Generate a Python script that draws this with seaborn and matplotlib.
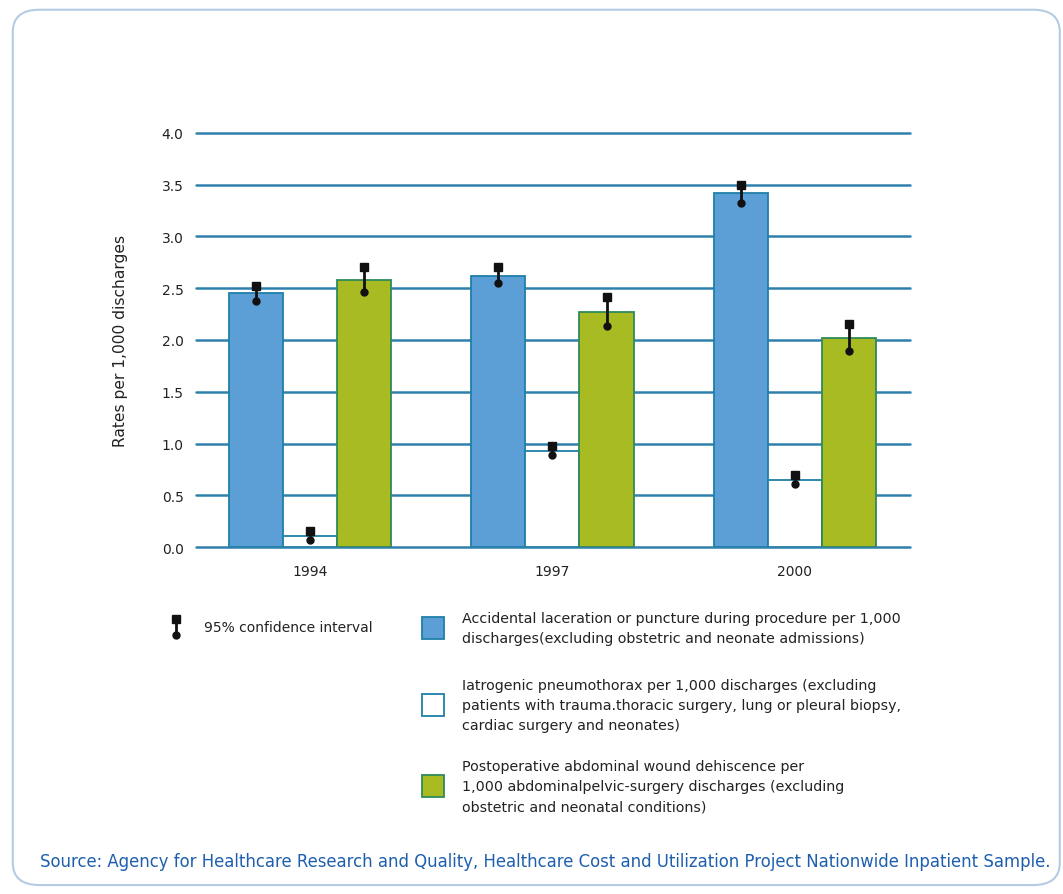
import numpy as np
import pandas as pd
import seaborn as sns
import matplotlib.pyplot as plt
from matplotlib.patches import FancyBboxPatch, Rectangle

# Données
years = ['1994', '1997', '2000']
series = [
    'Accidental laceration or puncture during procedure per 1,000\ndischarges(excluding obstetric and neonate admissions)',
    'Iatrogenic pneumothorax per 1,000 discharges (excluding\npatients with trauma.thoracic surgery, lung or pleural biopsy,\ncardiac surgery and neonates)',
    'Postoperative abdominal wound dehiscence per\n1,000 abdominalpelvic-surgery discharges (excluding\nobstetric and neonatal conditions)',
]
laceration = [2.45, 2.62, 3.42]
pneumothorax = [0.11, 0.93, 0.65]
dehiscence = [2.58, 2.27, 2.02]
ci_low = [[2.38, 2.55, 3.32], [0.07, 0.89, 0.61], [2.46, 2.14, 1.89]]
ci_high = [[2.52, 2.71, 3.50], [0.15, 0.98, 0.70], [2.71, 2.42, 2.15]]
yticks = [0.0, 0.5, 1.0, 1.5, 2.0, 2.5, 3.0, 3.5, 4.0]

fills = ['#5b9fd6', '#ffffff', '#a9bb22']
edges = ['#1f7fa8', '#1f7fa8', '#2f8a5a']
grid_col = '#2f80ad'
txt_col = '#222222'

df = pd.DataFrame({
    'year': years * 3,
    'serie': [series[0]] * 3 + [series[1]] * 3 + [series[2]] * 3,
    'rate': laceration + pneumothorax + dehiscence,
})

sns.set_style('white')
plt.rcParams['font.family'] = ['DejaVu Sans']

fig = plt.figure(figsize=(10.63, 8.95), dpi=100)
ax = fig.add_axes([0.1844, 0.3877, 0.6717, 0.4626])

sns.barplot(data=df, x='year', y='rate', hue='serie', palette=fills, saturation=1,
            width=0.67, ax=ax, legend=False, errorbar=None, zorder=3)

# bordures des barres + intervalles de confiance
n = len(years)
for i, patch in enumerate(ax.patches[:3 * n]):
    s, k = divmod(i, n)
    patch.set_edgecolor(edges[s])
    patch.set_linewidth(1.3)
    cx = patch.get_x() + patch.get_width() / 2
    lo, hi = ci_low[s][k], ci_high[s][k]
    ax.plot([cx, cx], [lo, hi], color='#111111', lw=2, zorder=5)
    ax.plot([cx], [hi], marker='s', ms=5.5, color='#111111', zorder=6)
    ax.plot([cx], [lo], marker='o', ms=5, color='#111111', zorder=6)

ax.set_ylim(0, 4.0)
ax.set_xlim(-0.47, 2.475)
ax.set_yticks(yticks)
ax.set_yticklabels([f'{v:.1f}' for v in yticks], fontsize=10, color=txt_col)
ax.tick_params(axis='x', labelsize=10, colors=txt_col, length=0, pad=12)
ax.tick_params(axis='y', length=0, pad=9)
ax.yaxis.grid(True, color=grid_col, lw=1.8)
for gl in ax.get_ygridlines():
    gl.set_clip_on(False)
ax.set_axisbelow(True)
sns.despine(ax=ax, left=True, bottom=True)
ax.set_xlabel('')
ax.set_ylabel('Rates per 1,000 discharges', fontsize=11.2, color=txt_col, labelpad=24)

# cadre arrondi
fig.patches.append(FancyBboxPatch((0.012, 0.01), 0.985, 0.978,
                                  boxstyle='round,pad=0,rounding_size=0.025',
                                  transform=fig.transFigure, fill=False,
                                  edgecolor='#b5cbe3', lw=1.5))

# légende manuelle
W, H = 1063, 895
def fx(px):
    return px / W
def fy(py):
    return 1 - py / H

fig.lines.append(plt.Line2D([fx(176), fx(176)], [fy(620), fy(636)], color='#111111', lw=2,
                            transform=fig.transFigure))
fig.lines.append(plt.Line2D([fx(176)], [fy(620)], marker='s', ms=5.5, color='#111111',
                            transform=fig.transFigure))
fig.lines.append(plt.Line2D([fx(176)], [fy(636)], marker='o', ms=5, color='#111111',
                            transform=fig.transFigure))
fig.text(fx(204), fy(628), '95% confidence interval', fontsize=10, color=txt_col, va='center')

box_y = [629, 706, 787]
for s in range(3):
    fig.patches.append(Rectangle((fx(422), fy(box_y[s] + 11)), 22 / W, 22 / H,
                                 transform=fig.transFigure, facecolor=fills[s],
                                 edgecolor=edges[s], lw=1.3))
    fig.text(fx(462), fy(box_y[s]), series[s], fontsize=10.3, color=txt_col,
             va='center', linespacing=1.55)

fig.text(fx(40), fy(862),
         'Source: Agency for Healthcare Research and Quality, Healthcare Cost and Utilization Project Nationwide Inpatient Sample.',
         fontsize=11.9, color='#1d5fae', va='center')

fig.savefig('out.png', dpi=100)
